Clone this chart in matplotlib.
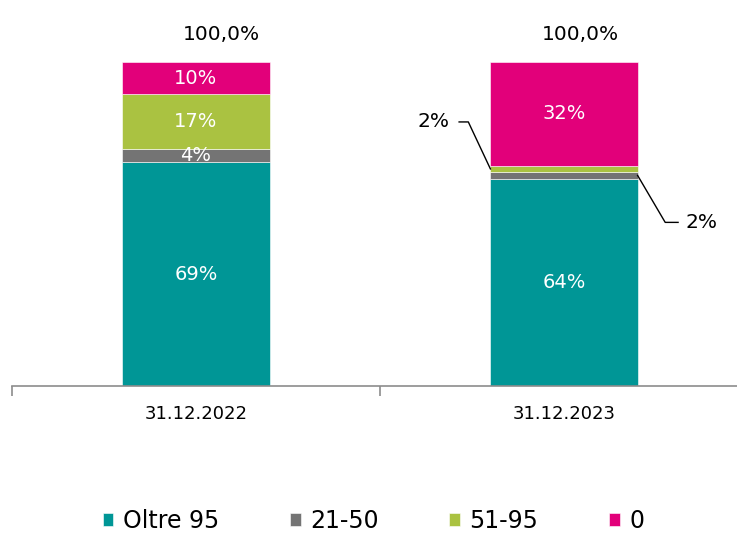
import matplotlib.pyplot as plt
import numpy as np

plt.rcParams['font.family'] = ['DejaVu Sans']

categories = ['31.12.2022', '31.12.2023']
series_names = ['Oltre 95', '21-50', '51-95', '0']
values = {
    'Oltre 95': [69, 64],
    '21-50': [4, 2],
    '51-95': [17, 2],
    '0': [10, 32],
}
totals = ['100,0%', '100,0%']
colors = {'Oltre 95': '#009696', '21-50': '#747474', '51-95': '#AAC241', '0': '#E2007A'}

W, H = 737, 533
fig = plt.figure(figsize=(W / 100, H / 100), dpi=100)
# axes spans one category width of 368 px each; right end runs past the figure edge
ax = fig.add_axes([12 / W, (H - 386) / H, 736 / W, (386 - 20) / H])

x = np.arange(len(categories))
bw = 0.4
bottom = np.zeros(len(categories))
for name in series_names:
    v = np.array(values[name], dtype=float)
    ax.bar(x, v, bw, bottom=bottom, color=colors[name], label=name,
           edgecolor='white', linewidth=0.4)
    for i, val in enumerate(v):
        inside = not (i == 1 and name in ('21-50', '51-95'))
        if inside:
            ax.text(x[i], bottom[i] + val / 2, f'{int(val)}%', ha='center', va='center',
                    color='white', fontsize=14)
    bottom += v

for i, t in enumerate(totals):
    off = 0.07 if i == 0 else 0.045
    ax.text(x[i] + off, 108.5, t, ha='center', va='center', fontsize=14.5, color='black')

oltre23 = values['Oltre 95'][1]
g23 = values['21-50'][1]
y23 = values['51-95'][1]
# 51-95 segment, label on the left
py = oltre23 + g23 + y23 / 2
ex = x[1] - bw / 2
ax.plot([ex, 0.74, 0.715], [py, 81.5, 81.5], color='black', lw=1)
ax.text(0.69, 81.5, f'{y23}%', ha='right', va='center', fontsize=14.5)
# 21-50 segment, label on the right
py = oltre23 + g23 / 2
ex = x[1] + bw / 2
ax.plot([ex, 1.275, 1.31], [py, 50.5, 50.5], color='black', lw=1)
ax.text(1.33, 50.5, f'{g23}%', ha='left', va='center', fontsize=14.5)

ax.set_xlim(-0.5, 1.5)
ax.set_ylim(0, (386 - 20) / 3.24)
for s in ['top', 'right', 'left']:
    ax.spines[s].set_visible(False)
ax.spines['bottom'].set_color('#8c8c8c')
ax.spines['bottom'].set_linewidth(1.2)
ax.set_yticks([])
ax.set_xticks(x)
ax.set_xticklabels(categories, fontsize=13)
ax.tick_params(axis='x', which='major', length=0, pad=14)
ax.set_xticks([-0.5, 0.5, 1.5], minor=True)
ax.tick_params(axis='x', which='minor', length=7, color='#8c8c8c', width=1.2)

fig.legend(loc='center', bbox_to_anchor=((107 + 640) / 2 / W, (H - 521) / H), ncol=4,
           frameon=False, fontsize=17, handlelength=0.45, handleheight=0.45,
           handletextpad=0.4, columnspacing=3.0)

fig.savefig('out.png', dpi=100)
